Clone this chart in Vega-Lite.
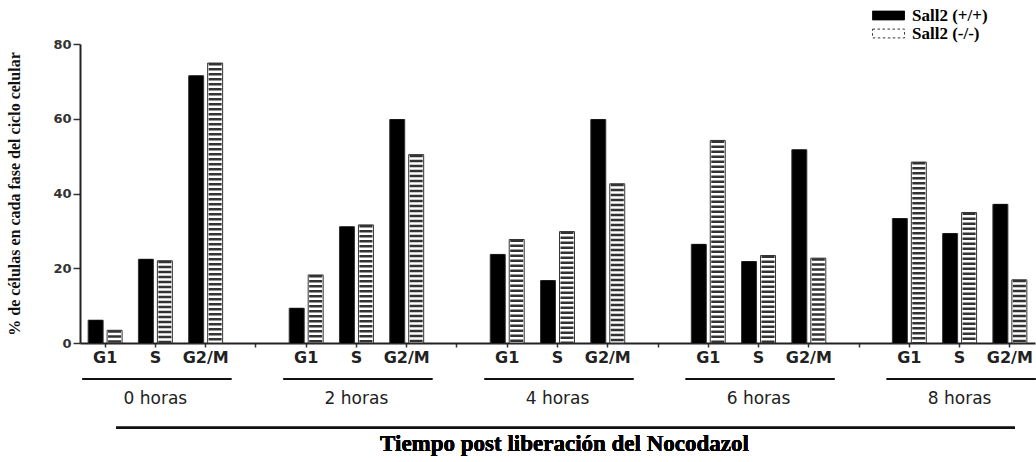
{
  "$schema": "https://vega.github.io/schema/vega-lite/v6.json",
  "background": "white",
  "autosize": {"type": "pad"},
  "padding": {"left": 6, "top": 7, "right": 0, "bottom": 0},
  "config": {"view": {"stroke": null}, "concat": {"spacing": 13}},
  "datasets": {
    "bars": [
      {"slot": "0h G1", "time": "0 horas", "phase": "G1", "geno": "Sall2 (+/+)", "value": 6.1},
      {"slot": "0h G1", "time": "0 horas", "phase": "G1", "geno": "Sall2 (-/-)", "value": 3.4},
      {"slot": "0h S", "time": "0 horas", "phase": "S", "geno": "Sall2 (+/+)", "value": 22.4},
      {"slot": "0h S", "time": "0 horas", "phase": "S", "geno": "Sall2 (-/-)", "value": 22.0},
      {"slot": "0h G2/M", "time": "0 horas", "phase": "G2/M", "geno": "Sall2 (+/+)", "value": 71.5},
      {"slot": "0h G2/M", "time": "0 horas", "phase": "G2/M", "geno": "Sall2 (-/-)", "value": 74.9},
      {"slot": "2h G1", "time": "2 horas", "phase": "G1", "geno": "Sall2 (+/+)", "value": 9.3},
      {"slot": "2h G1", "time": "2 horas", "phase": "G1", "geno": "Sall2 (-/-)", "value": 18.2},
      {"slot": "2h S", "time": "2 horas", "phase": "S", "geno": "Sall2 (+/+)", "value": 31.1},
      {"slot": "2h S", "time": "2 horas", "phase": "S", "geno": "Sall2 (-/-)", "value": 31.6},
      {"slot": "2h G2/M", "time": "2 horas", "phase": "G2/M", "geno": "Sall2 (+/+)", "value": 59.8},
      {"slot": "2h G2/M", "time": "2 horas", "phase": "G2/M", "geno": "Sall2 (-/-)", "value": 50.4},
      {"slot": "4h G1", "time": "4 horas", "phase": "G1", "geno": "Sall2 (+/+)", "value": 23.7},
      {"slot": "4h G1", "time": "4 horas", "phase": "G1", "geno": "Sall2 (-/-)", "value": 27.7},
      {"slot": "4h S", "time": "4 horas", "phase": "S", "geno": "Sall2 (+/+)", "value": 16.7},
      {"slot": "4h S", "time": "4 horas", "phase": "S", "geno": "Sall2 (-/-)", "value": 29.8},
      {"slot": "4h G2/M", "time": "4 horas", "phase": "G2/M", "geno": "Sall2 (+/+)", "value": 59.8},
      {"slot": "4h G2/M", "time": "4 horas", "phase": "G2/M", "geno": "Sall2 (-/-)", "value": 42.6},
      {"slot": "6h G1", "time": "6 horas", "phase": "G1", "geno": "Sall2 (+/+)", "value": 26.4},
      {"slot": "6h G1", "time": "6 horas", "phase": "G1", "geno": "Sall2 (-/-)", "value": 54.2},
      {"slot": "6h S", "time": "6 horas", "phase": "S", "geno": "Sall2 (+/+)", "value": 21.8},
      {"slot": "6h S", "time": "6 horas", "phase": "S", "geno": "Sall2 (-/-)", "value": 23.4},
      {"slot": "6h G2/M", "time": "6 horas", "phase": "G2/M", "geno": "Sall2 (+/+)", "value": 51.7},
      {"slot": "6h G2/M", "time": "6 horas", "phase": "G2/M", "geno": "Sall2 (-/-)", "value": 22.7},
      {"slot": "8h G1", "time": "8 horas", "phase": "G1", "geno": "Sall2 (+/+)", "value": 33.3},
      {"slot": "8h G1", "time": "8 horas", "phase": "G1", "geno": "Sall2 (-/-)", "value": 48.4},
      {"slot": "8h S", "time": "8 horas", "phase": "S", "geno": "Sall2 (+/+)", "value": 29.3},
      {"slot": "8h S", "time": "8 horas", "phase": "S", "geno": "Sall2 (-/-)", "value": 34.9},
      {"slot": "8h G2/M", "time": "8 horas", "phase": "G2/M", "geno": "Sall2 (+/+)", "value": 37.1},
      {"slot": "8h G2/M", "time": "8 horas", "phase": "G2/M", "geno": "Sall2 (-/-)", "value": 16.9}
    ],
    "groups": [
      {"time": "0 horas", "first": "0h G1", "mid": "0h S", "last": "0h G2/M"},
      {"time": "2 horas", "first": "2h G1", "mid": "2h S", "last": "2h G2/M"},
      {"time": "4 horas", "first": "4h G1", "mid": "4h S", "last": "4h G2/M"},
      {"time": "6 horas", "first": "6h G1", "mid": "6h S", "last": "6h G2/M"},
      {"time": "8 horas", "first": "8h G1", "mid": "8h S", "last": "8h G2/M"}
    ]
  },
  "resolve": {"scale": {"x": "shared"}},
  "vconcat": [
    {
      "width": 955,
      "height": 299,
      "data": {"name": "bars"},
      "encoding": {
        "x": {
          "field": "slot", "type": "nominal",
          "scale": {"domain": ["0h G1", "0h S", "0h G2/M", "gap1", "2h G1", "2h S", "2h G2/M", "gap2", "4h G1", "4h S", "4h G2/M", "gap3", "6h G1", "6h S", "6h G2/M", "gap4", "8h G1", "8h S", "8h G2/M"], "paddingInner": 0, "paddingOuter": 0},
          "axis": {
            "title": null, "labelAngle": 0,
            "labelExpr": "indexof(datum.value, 'gap') == 0 ? '' : split(datum.value, ' ')[1]",
            "labelFont": "DejaVu Sans", "labelFontWeight": "bold", "labelFontSize": 16, "labelColor": "#222",
            "labelPadding": 2, "tickSize": 4, "tickWidth": 1.5, "tickColor": "#333",
            "domainColor": "#222", "domainWidth": 2
          }
        },
        "xOffset": {"field": "geno", "type": "nominal", "scale": {"domain": ["Sall2 (+/+)", "Sall2 (-/-)"], "paddingInner": 0.21, "paddingOuter": 0.43}},
        "y": {
          "field": "value", "type": "quantitative",
          "scale": {"domain": [0, 80]},
          "axis": {
            "values": [0, 20, 40, 60, 80], "grid": false,
            "title": "% de células en cada fase del ciclo celular",
            "titleFont": "Liberation Serif", "titleFontWeight": "bold", "titleFontSize": 16, "titleColor": "#111", "titlePadding": 30,
            "labelFont": "DejaVu Sans", "labelFontWeight": "bold", "labelFontSize": 13, "labelColor": "#333", "labelPadding": 2,
            "tickSize": 7, "tickWidth": 1.5, "tickColor": "#333", "domainColor": "#222", "domainWidth": 2
          }
        }
      },
      "layer": [
        {
          "mark": {"type": "bar", "stroke": "#333", "strokeWidth": 1},
          "encoding": {
            "fill": {
              "field": "geno", "type": "nominal",
              "scale": {"domain": ["Sall2 (+/+)", "Sall2 (-/-)"], "range": ["#000000", "#ffffff"]},
              "legend": {
                "title": null, "orient": "none", "legendX": 800, "legendY": -37,
                "symbolType": "M-4,-1.1H4V1.1H-4Z", "symbolSize": 64, "symbolStrokeWidth": 1,
                "labelFont": "Liberation Serif", "labelFontWeight": "bold", "labelFontSize": 17, "labelColor": "#000",
                "labelOffset": 15, "rowPadding": 0,
                "encode": {
                  "symbols": {
                    "update": {
                      "stroke": {"value": "#222222"},
                      "strokeWidth": {"value": 1},
                      "strokeJoin": {"value": "bevel"},
                      "fill": [
                        {
                          "test": "datum.value == 'Sall2 (-/-)'",
                          "value": {
                            "gradient": "linear", "x1": 0, "y1": 0, "x2": 1, "y2": 0,
                            "stops": [
                              {"offset": 0, "color": "#333333"}, {"offset": 0.0833, "color": "#333333"},
                              {"offset": 0.0833, "color": "#ffffff"}, {"offset": 0.1667, "color": "#ffffff"},
                              {"offset": 0.1667, "color": "#333333"}, {"offset": 0.25, "color": "#333333"},
                              {"offset": 0.25, "color": "#ffffff"}, {"offset": 0.3333, "color": "#ffffff"},
                              {"offset": 0.3333, "color": "#333333"}, {"offset": 0.4167, "color": "#333333"},
                              {"offset": 0.4167, "color": "#ffffff"}, {"offset": 0.5, "color": "#ffffff"},
                              {"offset": 0.5, "color": "#333333"}, {"offset": 0.5833, "color": "#333333"},
                              {"offset": 0.5833, "color": "#ffffff"}, {"offset": 0.6667, "color": "#ffffff"},
                              {"offset": 0.6667, "color": "#333333"}, {"offset": 0.75, "color": "#333333"},
                              {"offset": 0.75, "color": "#ffffff"}, {"offset": 0.8333, "color": "#ffffff"},
                              {"offset": 0.8333, "color": "#333333"}, {"offset": 0.9167, "color": "#333333"},
                              {"offset": 0.9167, "color": "#ffffff"}, {"offset": 1, "color": "#ffffff"}
                            ]
                          }
                        },
                        {"value": "#000000"}
                      ]
                    }
                  }
                }
              }
            }
          }
        },
        {
          "mark": {"type": "rule", "strokeWidth": 13, "strokeCap": "butt"},
          "encoding": {
            "y2": {"datum": 0},
            "stroke": {
              "field": "geno", "type": "nominal",
              "scale": {"domain": ["Sall2 (+/+)", "Sall2 (-/-)"], "range": ["#000000", "#333333"]},
              "legend": null
            },
            "strokeDash": {
              "field": "geno", "type": "nominal",
              "scale": {"domain": ["Sall2 (+/+)", "Sall2 (-/-)"], "range": [[1, 0], [2.5, 2.5]]},
              "legend": null
            }
          }
        }
      ]
    },
    {
      "width": 955,
      "height": 65,
      "data": {"name": "groups"},
      "layer": [
        {
          "mark": {"type": "rule", "strokeWidth": 2, "color": "#111", "xOffset": -23, "x2Offset": 26},
          "encoding": {
            "x": {"field": "first", "type": "nominal", "axis": null},
            "x2": {"field": "last"},
            "y": {"datum": "underline", "type": "nominal", "scale": {"type": "point", "domain": ["underline", "label", "gap", "line", "title"], "padding": 0}, "axis": null}
          }
        },
        {
          "mark": {"type": "text", "font": "DejaVu Sans", "fontSize": 17, "color": "#222", "baseline": "middle", "dy": 4},
          "encoding": {
            "x": {"field": "mid", "type": "nominal", "axis": null},
            "y": {"datum": "label", "type": "nominal"},
            "text": {"field": "time"}
          }
        },
        {
          "mark": {"type": "rule", "strokeWidth": 2, "color": "#111", "xOffset": 11, "x2Offset": 5},
          "encoding": {
            "x": {"datum": "0h G1", "type": "nominal", "axis": null},
            "x2": {"datum": "8h G2/M"},
            "y": {"datum": "line", "type": "nominal"}
          }
        },
        {
          "mark": {"type": "text", "font": "Liberation Serif", "fontWeight": "bold", "fontSize": 23, "color": "#000", "baseline": "middle", "xOffset": 7},
          "encoding": {
            "x": {"datum": "4h S", "type": "nominal", "axis": null},
            "y": {"datum": "title", "type": "nominal"},
            "text": {"value": "Tiempo post liberación del Nocodazol"}
          }
        }
      ]
    }
  ]
}
